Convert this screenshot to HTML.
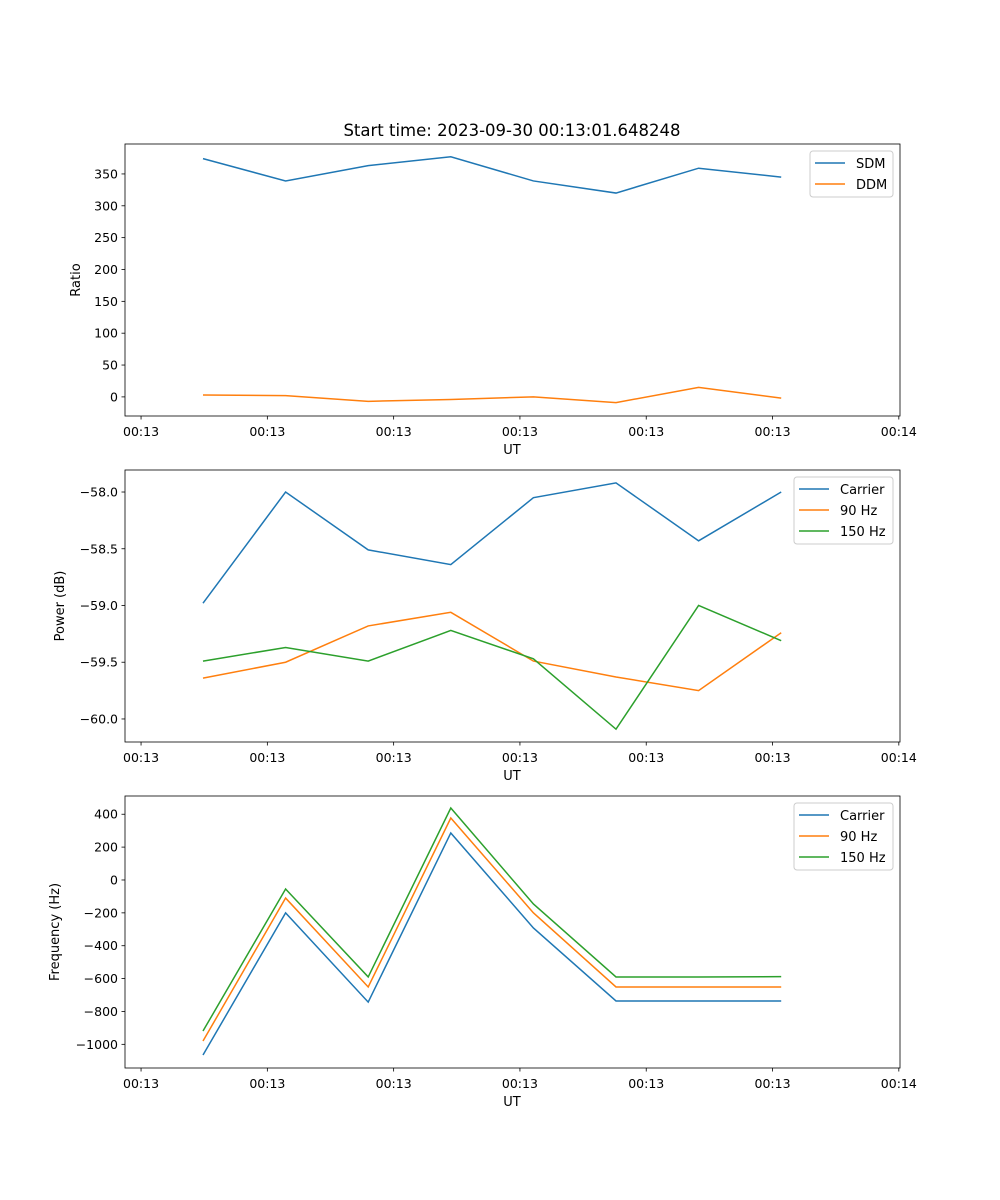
<!DOCTYPE html>
<html><head><meta charset="utf-8"><style>
body{margin:0;background:#fff}
svg{display:block;font-family:"DejaVu Sans","Liberation Sans",sans-serif}
</style></head><body>
<svg id="fig" width="1000" height="1200" xmlns="http://www.w3.org/2000/svg">
<text x="512" y="136" font-size="16.5" text-anchor="middle">Start time: 2023-09-30 00:13:01.648248</text>
</svg>
<script>
const xTickPos=[-0.75,0.779,2.308,3.837,5.366,6.895,8.424];
const xTickLabels=["00:13","00:13","00:13","00:13","00:13","00:13","00:14"];
const sdm=[374,339,363,377,339,320,359,345];
const ddm=[3,2,-7,-4,0,-9,15,-2];
const powCarrier=[-58.98,-58.0,-58.51,-58.64,-58.05,-57.92,-58.43,-58.0];
const pow90=[-59.64,-59.50,-59.18,-59.06,-59.49,-59.63,-59.75,-59.24];
const pow150=[-59.49,-59.37,-59.49,-59.22,-59.47,-60.09,-59.0,-59.31];
const freqCarrier=[-1065,-200,-743,286,-292,-736,-736,-736];
const freq90=[-980,-110,-651,377,-200,-651,-651,-651];
const freq150=[-919,-55,-590,438,-146,-590,-590,-588];
const yTicks1=[0,50,100,150,200,250,300,350];
const yTicks2=[-58.0,-58.5,-59.0,-59.5,-60.0];
const yTicks3=[400,200,0,-200,-400,-600,-800,-1000];

const NS="http://www.w3.org/2000/svg";
const svg=document.getElementById('fig');
function mk(tag,attrs,parent){const e=document.createElementNS(NS,tag);for(const k in attrs)e.setAttribute(k,attrs[k]);(parent||svg).appendChild(e);return e;}
const L=125,R=900;
function xs(i){return 203+82.6*i;}
const C={blue:"#1f77b4",orange:"#ff7f0e",green:"#2ca02c"};

function panel(name,top,bot,ymin,ymax,yTicks,fmt,ylabel,series,legend){
  const g=mk('g',{});
  
  
  const ys=v=>bot-(v-ymin)/(ymax-ymin)*(bot-top);
  series.forEach(s=>{
    const p=mk('polyline',{points:s.data.map((v,i)=>xs(i)+','+ys(v)).join(' '),fill:'none',stroke:s.color,'stroke-width':1.5},g);
    
    
  });
  const fr=mk('rect',{x:L,y:top,width:R-L,height:bot-top,fill:'none',stroke:'#000','stroke-width':0.8},g);
  
  
  xTickPos.forEach((t,k)=>{
    const x=xs(t);
    mk('line',{x1:x,x2:x,y1:bot,y2:bot+3.5,stroke:'#000','stroke-width':0.8},g);
    const tx=mk('text',{x:x,y:bot+20,'font-size':12.5,'text-anchor':'middle'},g);
    tx.textContent=xTickLabels[k];
    
    
  });
  yTicks.forEach(v=>{
    const y=ys(v);
    mk('line',{x1:L,x2:L-3.5,y1:y,y2:y,stroke:'#000','stroke-width':0.8},g);
    const tx=mk('text',{x:L-7,y:y+4.5,'font-size':12.5,'text-anchor':'end'},g);
    tx.textContent=fmt(v);
    
    
  });
  const xl=mk('text',{x:512,y:bot+38,'font-size':13,'text-anchor':'middle'},g);
  xl.textContent='UT';
  
  
  const cy=(top+bot)/2;
  const yl=mk('text',{x:0,y:0,'font-size':13,'text-anchor':'middle',transform:`translate(${legend.ylx},${cy}) rotate(-90)`},g);
  yl.textContent=ylabel;
  
  
  const lg=mk('g',{},g);
  
  
  mk('rect',{x:legend.x,y:top+7,width:R-7-legend.x,height:series.length*21+4,rx:3,fill:'#fff',stroke:'#ccc','stroke-width':1},lg);
  series.forEach((s,k)=>{
    const y=top+19+k*21;
    mk('line',{x1:legend.x+5,x2:legend.x+35,y1:y,y2:y,stroke:s.color,'stroke-width':1.5},lg);
    const t=mk('text',{x:legend.x+46,y:y+5,'font-size':13},lg);
    t.textContent=s.label;
    
    
  });
}
panel('ratio-panel',144,416,-30,397,yTicks1,v=>String(v),'Ratio',
 [{id:'sdm-line',label:'SDM',data:sdm,color:C.blue},{id:'ddm-line',label:'DDM',data:ddm,color:C.orange}],{x:810,ylx:80});
panel('power-panel',470,742,-60.203,-57.806,yTicks2,v=>'\u2212'+Math.abs(v).toFixed(1),'Power (dB)',
 [{id:'power-carrier-line',label:'Carrier',data:powCarrier,color:C.blue},{id:'power-90hz-line',label:'90 Hz',data:pow90,color:C.orange},{id:'power-150hz-line',label:'150 Hz',data:pow150,color:C.green}],{x:794,ylx:64});
panel('frequency-panel',796,1068,-1144,511,yTicks3,v=>(v<0?'\u2212':'')+Math.abs(v),'Frequency (Hz)',
 [{id:'freq-carrier-line',label:'Carrier',data:freqCarrier,color:C.blue},{id:'freq-90hz-line',label:'90 Hz',data:freq90,color:C.orange},{id:'freq-150hz-line',label:'150 Hz',data:freq150,color:C.green}],{x:794,ylx:59});
</script>
</body></html>
